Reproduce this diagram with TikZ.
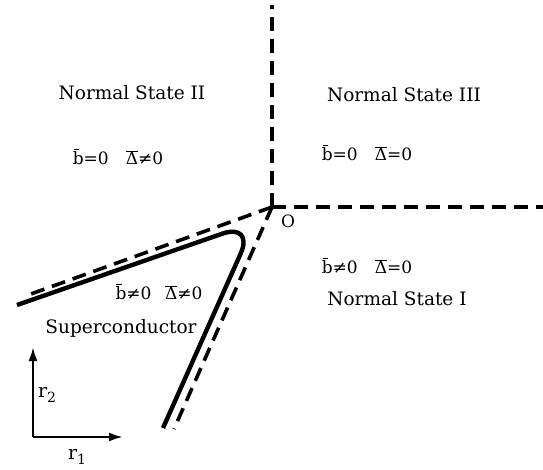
\documentclass[tikz,border=0pt]{standalone}
\usepackage{fontspec}
\setmainfont{DejaVu Serif}
\usetikzlibrary{arrows.meta}
\tikzset{
  lbl/.style={inner sep=0pt, font=\fontsize{18.5}{22}\selectfont},
  eqn/.style={inner sep=0pt, font=\fontsize{17}{20}\selectfont},
  rlab/.style={inner sep=0pt, font=\fontsize{19}{22}\selectfont},
  bnd/.style={line width=3.6pt, dash pattern=on 14pt off 8pt},
  sc/.style={line width=4.4pt, rounded corners=34pt},
  ax/.style={line width=2.4pt, -{Latex[length=14pt,width=9pt]}}
}
\newcommand{\bb}{\makebox[0pt][l]{\hspace{0.04em}\rule[0.84em]{0.32em}{0.07em}}b}
\newcommand{\bD}{\ensuremath{\overline{\hbox{Δ}}}}
\begin{document}
\begin{tikzpicture}[x=1pt,y=-1pt]
\useasboundingbox (0,0) rectangle (543,470);
% coordinates
\coordinate (O) at (272,207);
\coordinate (top) at (272,5);
\coordinate (right) at (543,207);
\coordinate (ul) at (31,294);
\coordinate (ll) at (174,429);
\coordinate (s1) at (17,305);
\coordinate (sc) at (254.5,222.5);
\coordinate (s2) at (163,428);
\coordinate (ax0) at (33,437);
\coordinate (axy) at (33,347);
\coordinate (axx) at (123,437);
% boundaries
\draw[bnd] (O) -- (top);
\draw[bnd] (O) -- (right);
\draw[bnd] (O) -- (ul);
\draw[bnd] (O) -- (ll);
% superconductor boundary
\draw[sc] (s1) -- (sc) -- (s2);
% axes
\draw[ax] (ax0) -- (axy);
\draw[ax] (ax0) -- (axx);
% labels
\node[lbl] (n2) at (132,93) {Normal State II};
\node[lbl] (n3) at (404,95) {Normal State III};
\node[lbl] (n1) at (397,299) {Normal State I};
\node[lbl] (sup) at (121,328) {Superconductor};
\node[eqn] (e2) at (118,157) {\bb=0\hspace{1em}\bD≠0};
\node[eqn] (e3) at (367,153) {\bb=0\hspace{1em}\bD=0};
\node[eqn] (e1) at (367,266) {\bb≠0\hspace{1em}\bD=0};
\node[eqn] (es) at (159,292) {\bb≠0\hspace{0.8em}\bD≠0};
\node[eqn] (o) at (288,221) {O};
\node[rlab] (r2) at (47,395) {r\raisebox{-0.45ex}{\fontsize{14}{16}\selectfont 2}};
\node[rlab] (r1) at (77,457) {r\raisebox{-0.45ex}{\fontsize{14}{16}\selectfont 1}};
\end{tikzpicture}
\end{document}
